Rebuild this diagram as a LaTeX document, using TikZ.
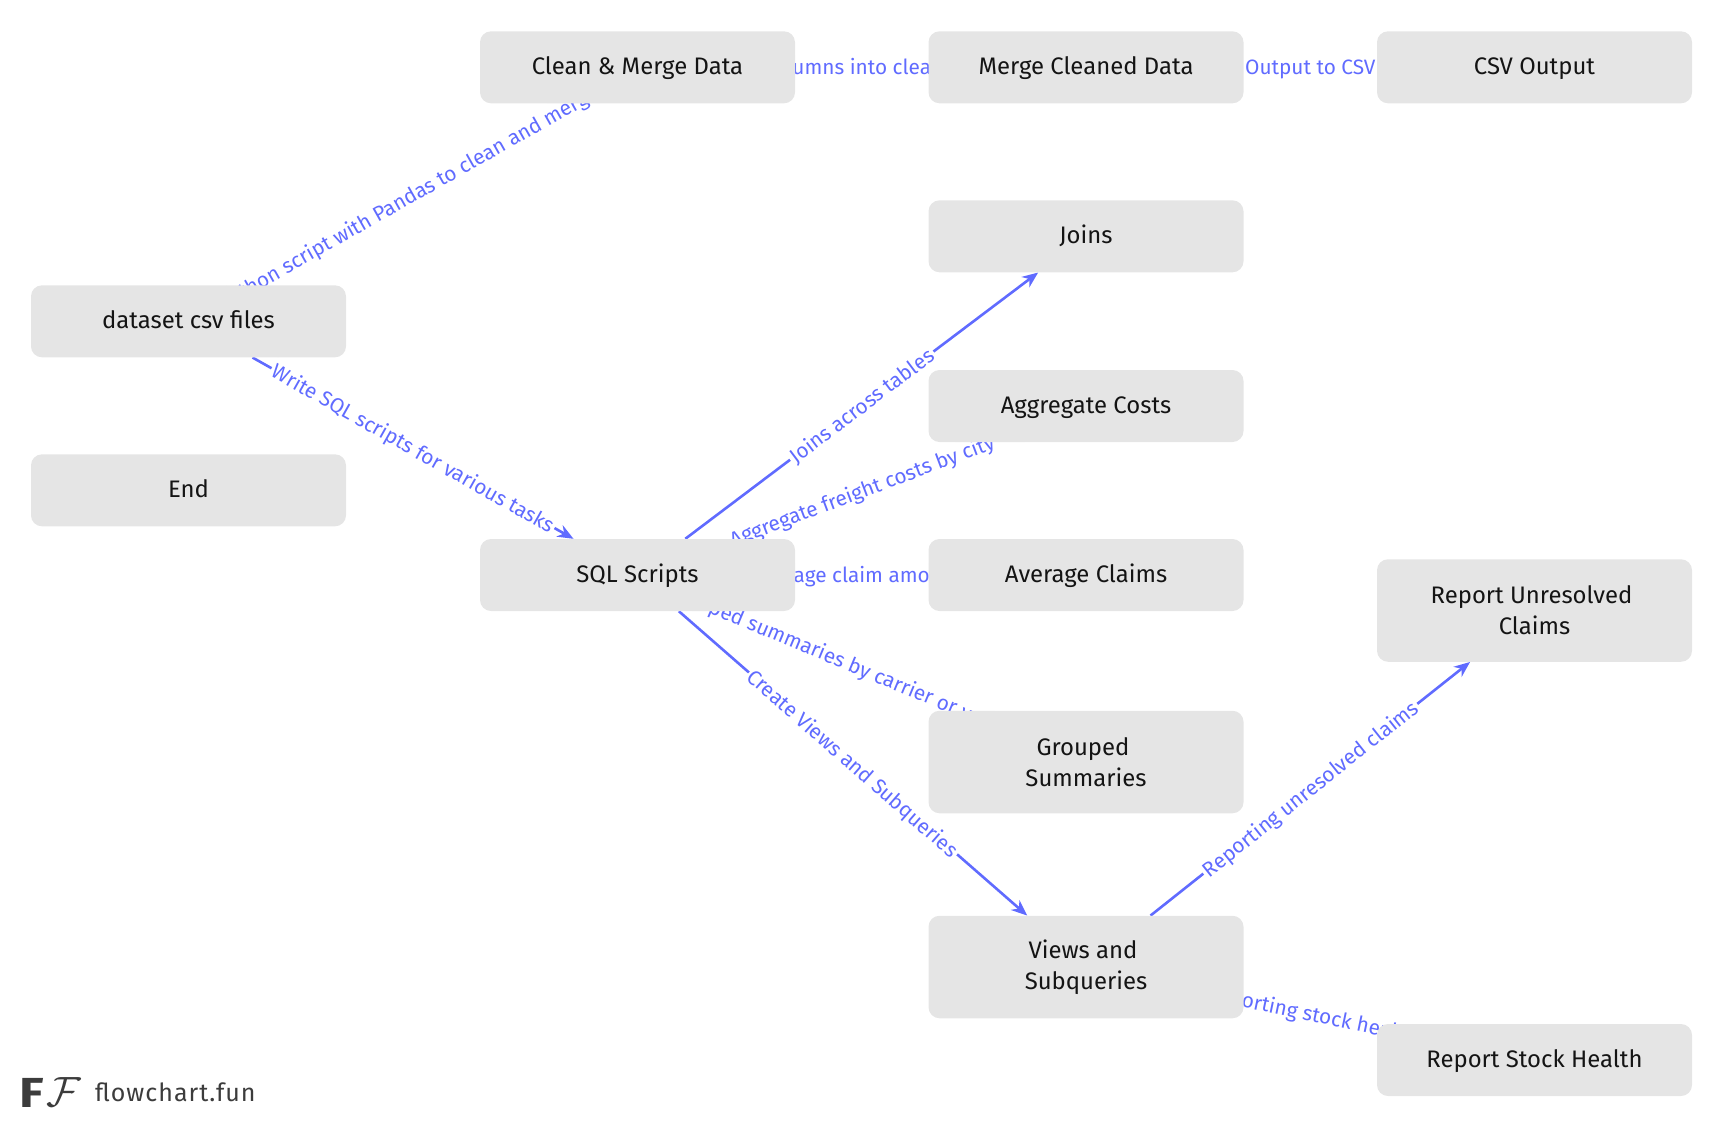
\documentclass[tikz,border=0pt]{standalone}
\usepackage{fontspec}
\setmainfont{Fira Sans}
\usetikzlibrary{arrows.meta}
\pgfdeclarelayer{edges}
\pgfsetlayers{edges,main}
\definecolor{edgeblue}{HTML}{606BFF}
\definecolor{nodegrey}{HTML}{E5E5E5}
\definecolor{logogrey}{HTML}{3C3C3C}
\tikzset{
  box/.style={fill=nodegrey,rounded corners=11pt,minimum width=315pt,minimum height=72pt,inner sep=0pt,align=center,text=black!92,text height=19pt,text depth=5pt,font=\fontsize{23.9}{30.5}\selectfont},
  tallbox/.style={fill=nodegrey,rounded corners=11pt,minimum width=315pt,minimum height=102.5pt,inner sep=0pt,align=center,text=black!92,font=\fontsize{23.9}{30.8}\selectfont},
  conn/.style={draw=edgeblue,line width=2.6pt,-{Stealth[length=16pt,width=13pt]}},
  lab/.style={fill=white,text=edgeblue,inner xsep=2pt,inner ysep=0pt,text height=20pt,text depth=5pt,font=\fontsize{20.8}{24}\selectfont},
  hid/.style={lab,inner xsep=60pt},
}
\begin{document}
\begin{tikzpicture}[x=1pt,y=-1pt]
\useasboundingbox (0,0) rectangle (1723,1128);
\node[box] (clean) at (637.5,67.3) {Clean \& Merge Data};
\node[box] (merge) at (1086,67.3) {Merge Cleaned Data};
\node[box] (csv) at (1534.5,67.3) {CSV Output};
\node[box] (joins) at (1086,236.3) {Joins};
\node[box] (agg) at (1086,406) {Aggregate Costs};
\node[box] (avg) at (1086,575) {Average Claims};
\node[box] (sql) at (637.5,575) {SQL Scripts};
\node[box] (data) at (188.5,321.3) {dataset csv files};
\node[box] (end) at (188.5,490.3) {End};
\node[tallbox] (grp) at (1086,762) {Grouped\kern6pt\\Summaries};
\node[tallbox] (views) at (1086,967) {Views and\kern6pt\\Subqueries};
\node[tallbox] (unres) at (1534.5,610.5) {Report Unresolved\kern6pt\\Claims};
\node[box] (stock) at (1534.5,1060) {Report Stock Health};
\begin{pgfonlayer}{edges}
\draw[conn] (data) -- node[hid,sloped] {thon script with Pandas to clean and merg} (clean);
\draw[conn] (clean) -- node[hid] {umns into clea} (merge);
\draw[conn] (merge) -- node[hid] {Output to CSV} (csv);
\draw[conn] (sql) -- node[hid,sloped] {Aggregate freight costs by city} (agg);
\draw[conn] (sql) -- node[hid] {age claim amo} (avg);
\draw[conn] (sql) -- node[hid,sloped,pos=0.51] {ped summaries by carrier or ve} (grp);
\draw[conn] (views) -- node[hid,sloped,pos=0.57] {orting stock heal} (stock);
\draw[conn] (data) -- node[lab,sloped] {Write SQL scripts for various tasks} (sql);
\draw[conn] (sql) -- node[lab,sloped] {Joins across tables} (joins);
\draw[conn] (sql) -- node[lab,sloped] {Create Views and Subqueries} (views);
\draw[conn] (views) -- node[lab,sloped] {Reporting unresolved claims} (unres);
\end{pgfonlayer}
\node[text=logogrey,inner sep=0pt,anchor=base west,xscale=1.2,font=\fontsize{42}{42}\selectfont\bfseries] (logoa) at (19,1107) {F};
\node[text=logogrey,inner sep=0pt,anchor=base west,scale=1.7,font=\fontsize{37}{37}\selectfont] (logob) at (46,1106) {$\mathcal{F}$};
\node[text=logogrey,inner sep=0pt,anchor=base west,font=\fontsize{25}{30}\selectfont\addfontfeature{LetterSpace=4}] (logoc) at (95,1101) {flowchart.fun};
\end{tikzpicture}
\end{document}
